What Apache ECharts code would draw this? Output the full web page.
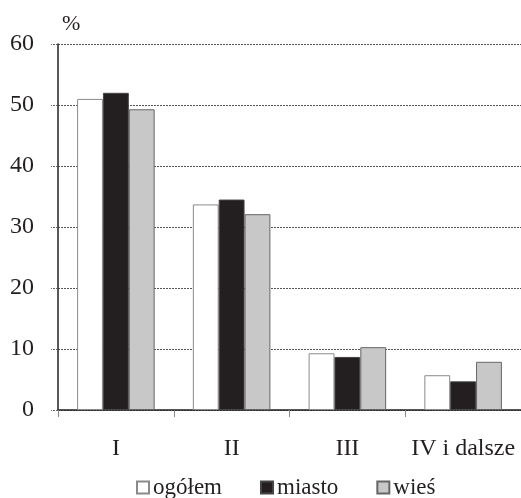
<!DOCTYPE html>
<html>
<head>
<meta charset="utf-8">
<script src="https://cdn.jsdelivr.net/npm/echarts@6/dist/echarts.min.js"></script>
<style>
  html, body { margin: 0; padding: 0; background: #fff; }
  #chart { width: 521px; height: 498px; }
</style>
</head>
<body>
<div id="chart"></div>
<script>
  // kolejność urodzenia
  const categories = ['I', 'II', 'III', 'IV i dalsze']
  const ogolem = [51.0, 33.7, 9.3, 5.7]
  const miasto = [52.0, 34.5, 8.7, 4.7]
  const wies = [49.3, 32.1, 10.3, 7.9]
  const seriesNames = ['ogółem', 'miasto', 'wieś']

  const font = 'Liberation Serif'
  const ink = '#231f20'

  let chart = echarts.init(document.getElementById('chart'))

  let options = {
    animation: false,
    textStyle: { fontFamily: font, color: ink },
    grid: {
      left: 58,
      top: 44,
      width: 464,
      height: 366,
      containLabel: false
    },
    graphic: [{
      type: 'text',
      left: 62,
      top: 13,
      style: { text: '%', fontFamily: font, fontSize: 22, fill: ink }
    }],
    legend: {
      data: seriesNames,
      top: 476,
      left: 136,
      padding: 0,
      icon: 'rect',
      itemWidth: 12,
      itemHeight: 12,
      itemGap: 38,
      textStyle: { fontFamily: font, fontSize: 23, color: ink, padding: [0, 0, 0, -1] }
    },
    xAxis: {
      type: 'category',
      data: categories,
      boundaryGap: true,
      axisLine: { lineStyle: { color: ink, width: 1.5 } },
      axisTick: { show: true, length: 7, lineStyle: { color: '#888' } },
      axisLabel: { interval: 0, hideOverlap: false, margin: 27, fontFamily: font, fontSize: 24, color: ink }
    },
    yAxis: {
      type: 'value',
      min: 0,
      max: 60,
      interval: 10,
      axisLine: { show: true, lineStyle: { color: ink, width: 1.5 } },
      axisTick: { show: true, length: 7, lineStyle: { color: '#666', type: [2, 1] } },
      axisLabel: { margin: 24, fontFamily: font, fontSize: 24, color: ink },
      splitLine: { show: true, lineStyle: { color: '#555', width: 1, type: [2, 1] } }
    },
    series: [
      {
        name: 'ogółem',
        type: 'bar',
        data: ogolem,
        barGap: '0%',
        barCategoryGap: '33%',
        itemStyle: { color: '#ffffff', borderColor: '#8a8a8a', borderWidth: 1 }
      },
      {
        name: 'miasto',
        type: 'bar',
        data: miasto,
        itemStyle: { color: ink, borderColor: '#444', borderWidth: 1 }
      },
      {
        name: 'wieś',
        type: 'bar',
        data: wies,
        itemStyle: { color: '#c8c8c9', borderColor: '#666', borderWidth: 1 }
      }
    ]
  }

  chart.setOption(options, true)
</script>
</body>
</html>
